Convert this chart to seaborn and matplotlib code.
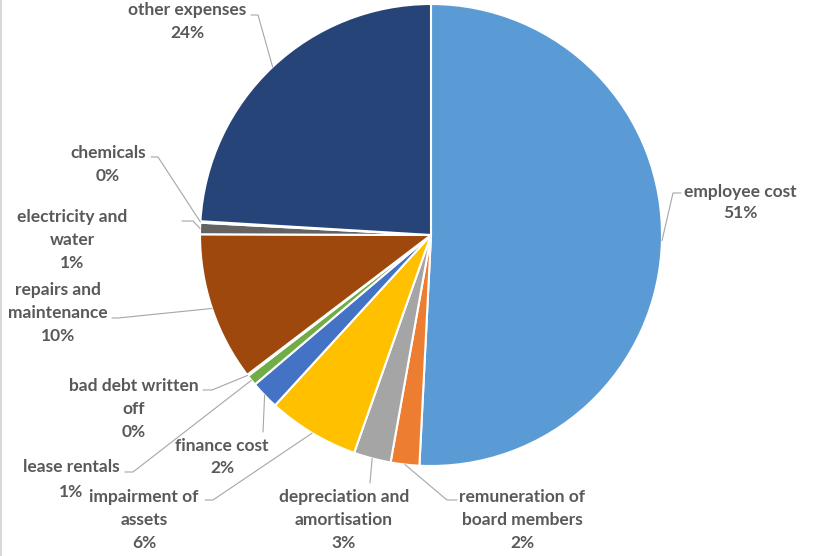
import matplotlib
matplotlib.use("Agg")
import matplotlib.pyplot as plt
from matplotlib.lines import Line2D
import seaborn as sns
import numpy as np

# Expense breakdown (share of total, %)
categories = [
    "employee cost", "remuneration of board members", "depreciation and amortisation",
    "impairment of assets", "finance cost", "lease rentals", "bad debt written off",
    "repairs and maintenance", "electricity and water", "chemicals", "other expenses",
]
shares = [50.8, 2.0, 2.6, 6.4, 2.0, 0.75, 0.1, 10.4, 0.8, 0.1, 24.05]
label_lines = [
    ["employee cost"], ["remuneration of", "board members"], ["depreciation and", "amortisation"],
    ["impairment of", "assets"], ["finance cost"], ["lease rentals"], ["bad debt written", "off"],
    ["repairs and", "maintenance"], ["electricity and", "water"], ["chemicals"], ["other expenses"],
]
colors = ["#5B9BD5", "#ED7D31", "#A5A5A5", "#FFC000", "#4472C4", "#70AD47",
          "#255E91", "#9E480E", "#636363", "#997300", "#264478"]

# Label layout in pixel units (x, y measured from the top-left corner)
text_x = [740, 522, 344, 144, 222, 71, 134, 58, 72, 108, 187]
text_y = [192, 497, 497, 497, 446, 467, 386, 290, 217, 153, 10]
line_step = [21, 23, 23, 23, 22, 25, 23, 23, 23, 23, 23]
leader_path = [
    [(673, 193), (681, 193)],
    [(447, 500), (457, 500)],
    [(370, 483)],
    [(213, 500), (205, 500)],
    [(263, 432)],
    [(133, 472), (125, 472)],
    [(212, 390), (203, 390)],
    [(118, 318), (112, 318)],
    [(193, 221), (182, 221)],
    [(158, 157), (151, 157)],
    [(258, 15), (251, 15)],
]

W, H = 816, 556
CX, CY, R = 431, 235, 231

sns.set_theme(style="white")
plt.rcParams["font.family"] = ["Lato", "DejaVu Sans"]

fig = plt.figure(figsize=(W / 100, H / 100), dpi=100)
ax = fig.add_axes([0, 0, 1, 1])

palette = sns.color_palette(colors)
wedges, _ = ax.pie(
    shares, colors=palette, startangle=90, counterclock=False,
    center=(CX, H - CY), radius=R,
    wedgeprops=dict(edgecolor="white", linewidth=1.5),
)
ax.set_xlim(0, W)
ax.set_ylim(0, H)
ax.set_aspect("equal")
ax.axis("off")

txt_color = "#595959"
lead_color = "#A6A6A6"
for w, v, lines, tx, ty, step, path in zip(
        wedges, shares, label_lines, text_x, text_y, line_step, leader_path):
    mid = np.deg2rad((w.theta1 + w.theta2) / 2)
    ax_pt = (CX + R * np.cos(mid), H - CY + R * np.sin(mid))
    xs = [ax_pt[0]] + [p[0] for p in path]
    ys = [ax_pt[1]] + [H - p[1] for p in path]
    ax.plot(xs, ys, color=lead_color, lw=0.8, clip_on=False, zorder=1)
    rows = lines + [f"{round(v):.0f}%"]
    for i, row in enumerate(rows):
        ax.text(tx, H - (ty + i * step), row, ha="center", va="center",
                fontsize=12.5, fontweight="bold", color=txt_color)

# thin frame edge on the left
fig.add_artist(Line2D([0.0015, 0.0015], [0, 1], transform=fig.transFigure,
                      color="#D9D9D9", lw=1.5))

fig.savefig("out.png", dpi=100)
